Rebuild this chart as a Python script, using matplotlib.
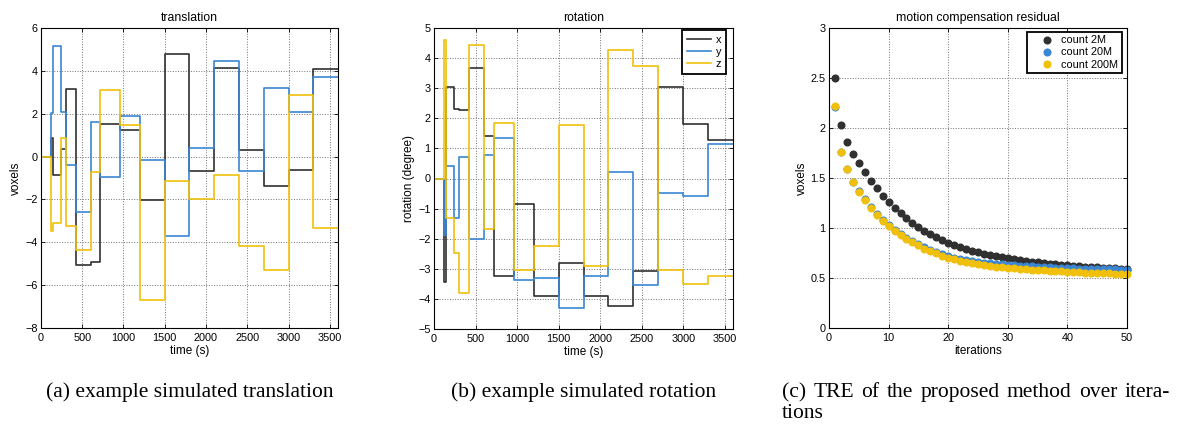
from __future__ import annotations

import matplotlib

matplotlib.use("Agg")

import matplotlib.pyplot as plt
from matplotlib.ticker import FormatStrFormatter, MultipleLocator

# segment edges (s) shared by all simulated motion traces
edges = [0, 120, 150, 240, 300, 420, 600, 720, 960, 1200, 1500, 1800, 2100, 2400, 2700, 3000, 3300, 3600]

trans_x = [0, 0.87, -0.84, 0.37, 3.17, -5.04, -4.93, 1.51, 1.26, -2.05, 4.80, -0.67, 4.15, 0.31, -1.37, -0.64, 4.10]
trans_y = [0, 2.04, 5.15, 2.08, -0.40, -2.57, 1.63, -0.96, 1.87, -0.17, -3.72, 0.42, 4.48, -0.68, 3.20, 2.10, 3.70]
trans_z = [0, -3.48, -3.11, 0.85, -3.22, -4.35, -0.73, 3.12, 1.45, -6.70, -1.15, -1.99, -0.84, -4.15, -5.30, 2.88, -3.35]

rot_x = [0, -3.43, 3.03, 2.32, 2.28, 3.68, 1.40, -3.24, -0.84, -3.90, -2.82, -3.92, -4.24, -3.06, 3.03, 1.82, 1.27]
rot_y = [0, -1.88, 0.40, -1.31, 0.72, -2.00, 0.77, 1.33, -3.36, -3.31, -4.29, -3.24, 0.23, -3.55, -0.48, -0.58, 1.15]
rot_z = [0, 4.60, -1.31, -2.46, -3.80, 4.42, -1.67, 1.83, -3.03, -2.23, 1.78, -2.90, 4.28, 3.73, -3.05, -3.52, -3.25]

iterations = list(range(1, 51))
res_2m = [2.50, 2.03, 1.86, 1.745, 1.65, 1.56, 1.47, 1.40, 1.32, 1.26,
          1.20, 1.15, 1.10, 1.05, 1.01, 0.97, 0.94, 0.91, 0.88, 0.855,
          0.83, 0.81, 0.795, 0.775, 0.76, 0.745, 0.73, 0.72, 0.71, 0.70,
          0.69, 0.68, 0.675, 0.665, 0.66, 0.65, 0.645, 0.64, 0.635, 0.63,
          0.625, 0.62, 0.615, 0.61, 0.607, 0.603, 0.60, 0.597, 0.594, 0.59]
res_20m = [2.215, 1.76, 1.595, 1.465, 1.37, 1.29, 1.215, 1.145, 1.085, 1.03,
           0.985, 0.94, 0.90, 0.87, 0.84, 0.81, 0.785, 0.765, 0.74, 0.72,
           0.705, 0.69, 0.68, 0.67, 0.665, 0.655, 0.65, 0.645, 0.64, 0.635,
           0.63, 0.625, 0.62, 0.617, 0.613, 0.61, 0.607, 0.604, 0.601, 0.598,
           0.596, 0.594, 0.592, 0.59, 0.589, 0.588, 0.587, 0.586, 0.585, 0.584]
res_200m = [2.22, 1.765, 1.59, 1.46, 1.36, 1.28, 1.205, 1.135, 1.075, 1.02,
            0.975, 0.93, 0.89, 0.86, 0.83, 0.795, 0.77, 0.75, 0.725, 0.705,
            0.69, 0.675, 0.66, 0.65, 0.64, 0.63, 0.62, 0.615, 0.61, 0.605,
            0.60, 0.595, 0.59, 0.585, 0.58, 0.577, 0.573, 0.57, 0.567, 0.564,
            0.561, 0.558, 0.555, 0.553, 0.55, 0.548, 0.546, 0.544, 0.542, 0.54]

axis_labels = ["x", "y", "z"]
count_labels = ["count 2M", "count 20M", "count 200M"]
colors = ["#303030", "#3a86d4", "#f0c00c"]

W, H = 1179, 428
plt.rcParams["font.family"] = ["Liberation Sans", "DejaVu Sans"]


def px_axes(fig, left, top, right, bottom):
    return fig.add_axes([left / W, 1 - bottom / H, (right - left) / W, (bottom - top) / H])


def style_axes(ax, title, xlabel, ylabel):
    ax.set_title(title, fontsize=8.8, pad=5)
    ax.set_xlabel(xlabel, fontsize=8.5, labelpad=1.5)
    ax.set_ylabel(ylabel, fontsize=8.5, labelpad=2)
    ax.grid(True, linestyle=":", color="0.45", linewidth=0.7)
    ax.tick_params(direction="in", top=True, right=True, length=3, width=0.6,
                   labelsize=7.8)
    ax.tick_params(axis="x", pad=3.5)
    ax.tick_params(axis="y", pad=2.5)
    for spine in ax.spines.values():
        spine.set_linewidth(0.8)


def draw_steps(ax, series):
    for values, color, label in zip(series, colors, axis_labels):
        ax.step(edges, values + values[-1:], where="post", color=color,
                linewidth=1.2, label=label)


def boxed_legend(ax, anchor, **kw):
    # anchor is the upper-right corner of the box in figure pixels
    leg = ax.legend(loc="upper right", bbox_to_anchor=(anchor[0] / W, 1 - anchor[1] / H),
                    bbox_transform=ax.figure.transFigure, fontsize=7.8, fancybox=False,
                    framealpha=1, borderaxespad=0, **kw)
    leg.get_frame().set_edgecolor("black")
    leg.get_frame().set_linewidth(1.3)
    return leg


def justified_line(fig, text, x0, x1, y, **kw):
    words = text.split()
    renderer = fig.canvas.get_renderer()
    items = [fig.text(0, 1 - y / H, w, **kw) for w in words]
    widths = [t.get_window_extent(renderer).width for t in items]
    gap = (x1 - x0 - sum(widths)) / (len(words) - 1)
    x = x0
    for t, w in zip(items, widths):
        t.set_x(x / W)
        x += w + gap


fig = plt.figure(figsize=(W / 100, H / 100), dpi=100)

ax1 = px_axes(fig, 41, 28, 338, 328)
draw_steps(ax1, [trans_x, trans_y, trans_z])
ax1.set_xlim(0, 3600)
ax1.set_ylim(-8, 6)
ax1.xaxis.set_major_locator(MultipleLocator(500))
ax1.yaxis.set_major_locator(MultipleLocator(2))
style_axes(ax1, "translation", "time (s)", "voxels")

ax2 = px_axes(fig, 434, 28, 733, 329)
draw_steps(ax2, [rot_x, rot_y, rot_z])
ax2.set_xlim(0, 3600)
ax2.set_ylim(-5, 5)
ax2.xaxis.set_major_locator(MultipleLocator(500))
ax2.yaxis.set_major_locator(MultipleLocator(1))
style_axes(ax2, "rotation", "time (s)", "rotation (degree)")
boxed_legend(ax2, (726, 30), handlelength=2.2, handletextpad=0.45,
             borderpad=0.45, labelspacing=0.18)

ax3 = px_axes(fig, 829, 28, 1127, 328)
for values, color, label in zip([res_2m, res_20m, res_200m], colors, count_labels):
    ax3.plot(iterations, values, linestyle="none", marker="o", markersize=4.8,
             color=color, markeredgecolor=color, label=label, clip_on=False)
ax3.set_xlim(0, 50)
ax3.set_ylim(0, 3)
ax3.xaxis.set_major_locator(MultipleLocator(10))
ax3.yaxis.set_major_locator(MultipleLocator(0.5))
ax3.yaxis.set_major_formatter(FormatStrFormatter("%g"))
style_axes(ax3, "motion compensation residual", "iterations", "voxels")
boxed_legend(ax3, (1122, 31.5), handlelength=3.0, handletextpad=-0.2,
             borderpad=0.35, labelspacing=0.2)

cap = dict(fontsize=15.5, family=["Liberation Serif", "DejaVu Serif"], va="baseline")
fig.text(189.5 / W, 1 - 397 / H, "(a) example simulated translation", ha="center", **cap)
fig.text(584 / W, 1 - 397 / H, "(b) example simulated rotation", ha="center", **cap)
justified_line(fig, "(c) TRE of the proposed method over itera-", 782, 1170, 397, **cap)
fig.text(782 / W, 1 - 418 / H, "tions", ha="left", **cap)

fig.savefig("out.png", dpi=100)
plt.close(fig)
